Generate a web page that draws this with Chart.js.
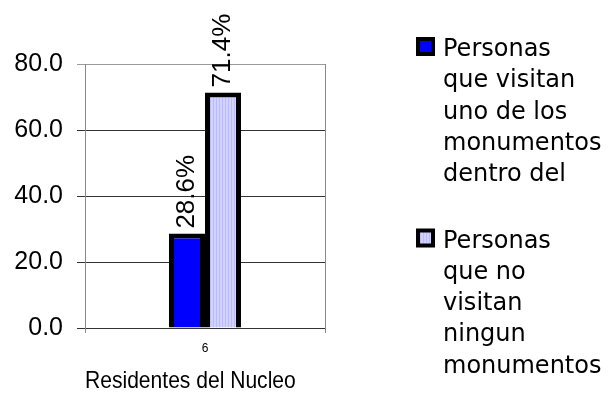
<!DOCTYPE html>
<html>
<head>
<meta charset="utf-8">
<script src="https://cdn.jsdelivr.net/npm/chart.js@4"></script>
<style>
  html, body { margin: 0; padding: 0; background: #fff; }
  #wrap { width: 612px; height: 396px; }
</style>
</head>
<body>
<div id="wrap"><canvas id="chart" width="612" height="396"></canvas></div>
<script>
const categories = ["6"];
const visitanValues = [28.6];
const noVisitanValues = [71.4];
const legendLines = [
    ["Personas", "que visitan", "uno de los", "monumentos", "dentro del"],
    ["Personas", "que no", "visitan", "ningun", "monumentos"]
];
const yTicks = [0, 20, 40, 60, 80];

// vertical stripes like the old excel fill
function stripes() {
    const c = document.createElement("canvas");
    c.width = 3; c.height = 1;
    const g = c.getContext("2d");
    g.fillStyle = "#d2d2ff"; g.fillRect(0, 0, 3, 1);
    g.fillStyle = "#bcbcf8"; g.fillRect(0, 0, 1, 1);
    return g.createPattern(c, "repeat");
}
const lightFill = stripes();

const valueLabels = {
    id: "valueLabels",
    afterDatasetsDraw(chart) {
        const ctx = chart.ctx;
        ctx.save();
        ctx.font = "26px 'Liberation Sans', Arial, sans-serif";
        ctx.fillStyle = "#000";
        ctx.textAlign = "left";
        ctx.textBaseline = "middle";
        chart.data.datasets.forEach((ds, i) => {
            chart.getDatasetMeta(i).data.forEach((bar, j) => {
                ctx.save();
                ctx.translate(bar.x, bar.y - 5);
                ctx.rotate(-Math.PI / 2);
                ctx.fillText(ds.data[j].toFixed(1) + "%", 0, 0);
                ctx.restore();
            });
        });
        ctx.restore();
    }
};

const sideLegend = {
    id: "sideLegend",
    afterDraw(chart) {
        const ctx = chart.ctx;
        const x = 416, lineH = 31.3;
        let y = 37;
        ctx.save();
        ctx.font = "24px 'DejaVu Sans', sans-serif";
        ctx.textBaseline = "alphabetic";
        chart.data.datasets.forEach((ds, i) => {
            ctx.fillStyle = "#000";
            ctx.fillRect(x, y, 19, 19);
            ctx.fillStyle = ds.backgroundColor;
            ctx.fillRect(x + 4, y + 4, 11, 11);
            ctx.fillStyle = "#000";
            legendLines[i].forEach((t, k) => {
                ctx.fillText(t, 443, y + 19 + k * lineH);
            });
            y += legendLines[i].length * lineH + 35;
        });
        ctx.restore();
    }
};

new Chart(document.getElementById("chart"), {
    type: "bar",
    data: {
        labels: categories,
        datasets: [
            {
                label: legendLines[0].join(" "),
                data: visitanValues,
                backgroundColor: "#0000ff",
                borderColor: "#000",
                borderWidth: 5,
                barPercentage: 1.0,
                categoryPercentage: 0.30
            },
            {
                label: legendLines[1].join(" "),
                data: noVisitanValues,
                backgroundColor: lightFill,
                borderColor: "#000",
                borderWidth: 5,
                barPercentage: 1.0,
                categoryPercentage: 0.30
            }
        ]
    },
    options: {
        responsive: false,
        animation: false,
        layout: { padding: { top: 64, right: 287, left: 0, bottom: 0 } },
        plugins: { legend: { display: false }, tooltip: { enabled: false } },
        scales: {
            x: {
                grid: { color: "#888", tickLength: 5, lineWidth: 1 },
                border: { display: false },
                ticks: { color: "#000", font: { size: 12, family: "'Liberation Sans', Arial" }, padding: 8 },
                title: {
                    display: true,
                    // trailing spaces nudge the centred title left like the original
                    text: "Residentes del Nucleo     ",
                    color: "#000",
                    font: { size: 24, family: "'Liberation Sans', Arial" },
                    padding: { top: 5, bottom: 0 }
                },
                afterFit: s => { s.height = 68; }
            },
            y: {
                min: 0,
                max: 80,
                afterBuildTicks: s => { s.ticks = yTicks.map(v => ({ value: v })); },
                grid: {
                    color: c => (c.tick && c.tick.value === 80 ? "#999" : "#333"),
                    tickLength: 8
                },
                border: { color: "#888", width: 1 },
                ticks: {
                    color: "#000",
                    padding: 14,
                    font: { size: 25, family: "'Liberation Sans', Arial" },
                    callback: v => v.toFixed(1)
                },
                afterFit: s => { s.width = 85; }
            }
        }
    },
    plugins: [valueLabels, sideLegend]
});
</script>
</body>
</html>
